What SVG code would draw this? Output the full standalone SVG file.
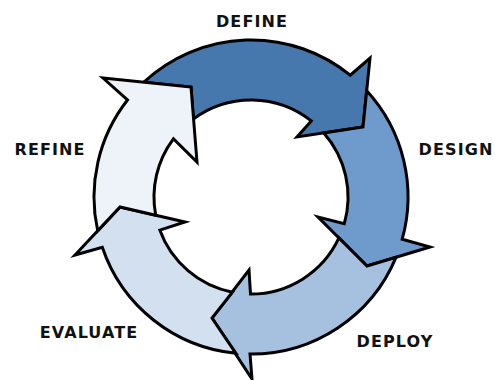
<svg xmlns="http://www.w3.org/2000/svg" width="495" height="380" viewBox="0 0 495 380">
<style>
.arrow{stroke:#000;stroke-width:3;stroke-linejoin:miter;stroke-miterlimit:10}
.lbl{font-family:"DejaVu Sans","Verdana",sans-serif;font-weight:bold;font-size:16px;letter-spacing:1.1px;fill:#111;text-anchor:middle}
</style>
<rect width="495" height="380" fill="#fff"/>
<g id="define">
<path class="arrow" fill="#4677AD" d="M 143.9,82.2 A 157 157 0 0 1 350.2,75.2 L 370,58 L 363,127 L 297,137 L 311.3,120.9 A 97 97 0 0 0 193.4,119.0 L 191,87 Z"/>
<text class="lbl" x="252" y="26.5">DEFINE</text>
</g>
<g id="design">
<path class="arrow" fill="#6E9BCB" d="M 366.7,90.8 A 157 157 0 0 1 402.2,239.2 L 430,247 L 367,266 L 318,217 L 344.3,223.7 A 97 97 0 0 0 323.8,132.9 L 363,127 Z"/>
<text class="lbl" x="456" y="155">DESIGN</text>
</g>
<g id="deploy">
<path class="arrow" fill="#A6C1DF" d="M 396.0,257.3 A 157 157 0 0 1 250,354 L 252,379 L 212,318 L 249,270 L 250.5,294 A 97 97 0 0 0 338.9,237.9 L 367,266 Z"/>
<text class="lbl" x="395" y="347">DEPLOY</text>
</g>
<g id="evaluate">
<path class="arrow" fill="#D2E0F0" d="M 235.9,353.3 A 157 157 0 0 1 102.3,247.3 L 75,255 L 120,207 L 185,222 L 159.8,230.1 A 97 97 0 0 0 232.4,292.2 L 212,318 Z"/>
<text class="lbl" x="89" y="338">EVALUATE</text>
</g>
<g id="refine">
<path class="arrow" fill="#EEF3FA" d="M 97.7,230.8 A 157 157 0 0 1 127.5,100.0 L 103,78 L 191,87 L 197,162 L 173.4,138.8 A 97 97 0 0 0 155.7,215.2 L 120,207 Z"/>
<text class="lbl" x="50" y="155">REFINE</text>
</g>
<g id="connectors"/>
</svg>
